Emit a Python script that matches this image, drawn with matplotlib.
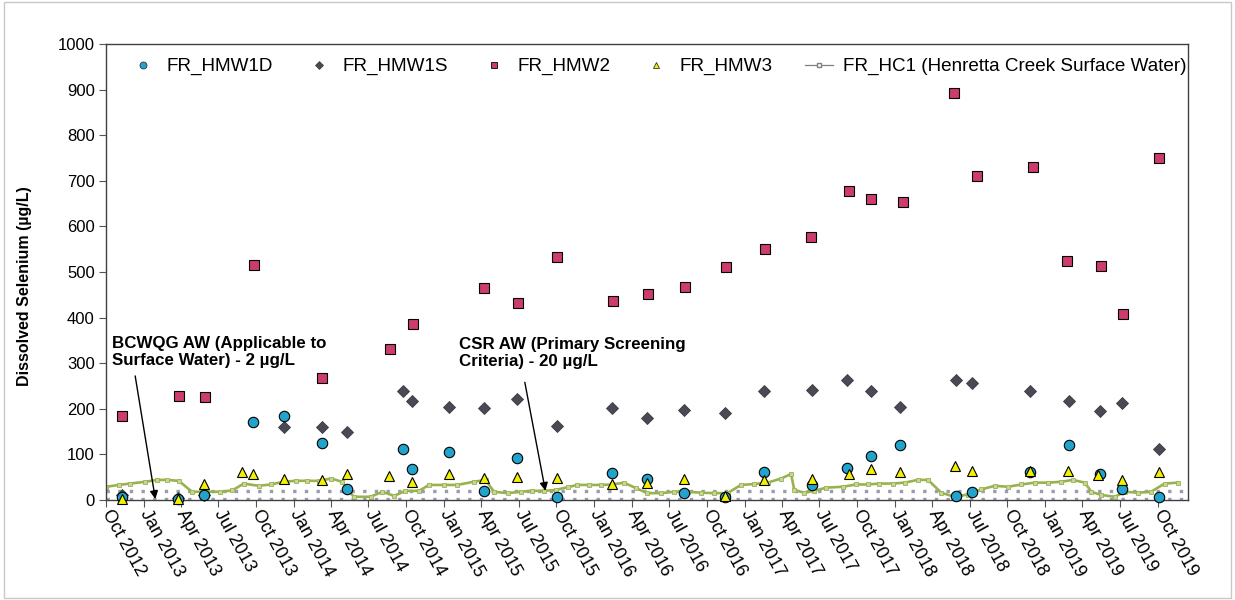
"""Dissolved selenium in Henretta monitoring wells vs creek surface water."""

import numpy as np
import pandas as pd
import matplotlib
matplotlib.use("Agg")
import matplotlib.pyplot as plt
from matplotlib.lines import Line2D
from matplotlib.patches import Rectangle

plt.rcParams["font.family"] = ["Liberation Sans", "DejaVu Sans"]

# --- data (µg/L) ---
hmw1d_dates = ["2012-11-09", "2013-03-26", "2013-05-28", "2013-09-23", "2013-12-07",
               "2014-03-10", "2014-05-10", "2014-09-24", "2014-10-16", "2015-01-13",
               "2015-04-09", "2015-06-28", "2015-10-02", "2016-02-13", "2016-05-09",
               "2016-08-07", "2016-11-13", "2017-02-17", "2017-06-13", "2017-09-06",
               "2017-11-03", "2018-01-13", "2018-05-28", "2018-07-06", "2018-11-26",
               "2019-02-28", "2019-05-14", "2019-07-07", "2019-10-05"]
hmw1d_vals = [7, 2, 10, 170, 185, 126, 23, 111, 68, 105, 20, 93, 6, 59, 47,
              15, 7, 62, 33, 71, 96, 120, 9, 17, 62, 120, 56, 23, 6]

hmw1s_dates = ["2012-11-09", "2013-03-26", "2013-05-28", "2013-12-07", "2014-03-10",
               "2014-05-10", "2014-09-24", "2014-10-16", "2015-01-13", "2015-04-09",
               "2015-06-28", "2015-10-02", "2016-02-13", "2016-05-09", "2016-08-07",
               "2016-11-14", "2017-02-17", "2017-06-13", "2017-09-06", "2017-11-03",
               "2018-01-13", "2018-05-28", "2018-07-06", "2018-11-26", "2019-02-28",
               "2019-05-14", "2019-07-07", "2019-10-05"]
hmw1s_vals = [10, 4, 10, 160, 160, 148, 238, 217, 204, 201, 222, 163, 201, 179,
              197, 191, 238, 241, 263, 238, 204, 263, 256, 238, 217, 195, 212, 111]

hmw2_dates = ["2012-11-10", "2013-03-27", "2013-05-29", "2013-09-26", "2014-03-10",
              "2014-08-23", "2014-10-18", "2015-04-09", "2015-06-29", "2015-10-02",
              "2016-02-16", "2016-05-10", "2016-08-09", "2016-11-16", "2017-02-18",
              "2017-06-10", "2017-09-11", "2017-11-04", "2018-01-19", "2018-05-25",
              "2018-07-20", "2018-12-03", "2019-02-23", "2019-05-16", "2019-07-08",
              "2019-10-05"]
hmw2_vals = [185, 227, 225, 516, 268, 331, 386, 464, 432, 533, 437, 452, 467,
             511, 551, 577, 678, 660, 654, 893, 710, 730, 523, 514, 407, 749]

hmw3_dates = ["2012-11-09", "2013-03-26", "2013-05-28", "2013-08-27", "2013-09-23",
              "2013-12-07", "2014-03-10", "2014-05-10", "2014-08-21", "2014-10-16",
              "2015-01-13", "2015-04-09", "2015-06-28", "2015-10-02", "2016-02-13",
              "2016-05-09", "2016-08-07", "2016-11-13", "2017-02-17", "2017-06-13",
              "2017-09-10", "2017-11-03", "2018-01-13", "2018-05-27", "2018-07-06",
              "2018-11-26", "2019-02-25", "2019-05-08", "2019-07-07", "2019-10-05"]
hmw3_vals = [2, 2, 34, 61, 58, 47, 44, 58, 53, 40, 56, 48, 51, 48, 34, 37, 47,
             9, 44, 46, 57, 67, 61, 74, 63, 63, 64, 55, 43, 61]

hc1_dates = ["2012-10-02", "2012-11-01", "2012-11-29", "2013-01-05", "2013-02-02",
             "2013-02-26", "2013-03-27", "2013-04-28", "2013-06-04", "2013-07-06",
             "2013-08-04", "2013-09-01", "2013-10-07", "2013-11-05", "2013-12-07",
             "2014-01-05", "2014-02-02", "2014-03-02", "2014-04-01", "2014-04-28",
             "2014-05-26", "2014-07-06", "2014-08-04", "2014-09-01", "2014-09-29",
             "2014-11-01", "2014-11-25", "2014-12-31", "2015-02-02", "2015-03-14",
             "2015-04-12", "2015-05-02", "2015-06-04", "2015-07-06", "2015-08-03",
             "2015-09-01", "2015-09-29", "2015-10-28", "2015-11-21", "2015-12-19",
             "2016-01-17", "2016-02-14", "2016-03-13", "2016-04-11", "2016-05-09",
             "2016-06-11", "2016-07-13", "2016-08-15", "2016-09-16", "2016-10-18",
             "2016-11-20", "2016-12-22", "2017-01-24", "2017-02-25", "2017-03-30",
             "2017-04-23", "2017-05-01", "2017-05-25", "2017-06-19", "2017-07-17",
             "2017-08-27", "2017-09-28", "2017-10-27", "2017-11-24", "2017-12-26",
             "2018-01-24", "2018-02-25", "2018-03-22", "2018-04-23", "2018-05-25",
             "2018-06-27", "2018-07-29", "2018-08-31", "2018-10-02", "2018-11-04",
             "2018-12-06", "2019-01-08", "2019-02-09", "2019-03-09", "2019-04-07",
             "2019-04-23", "2019-05-17", "2019-06-19", "2019-07-13", "2019-08-14",
             "2019-09-15", "2019-10-18", "2019-11-20"]
hc1_vals = [29, 33, 36, 40, 44, 44, 42, 18, 18, 18, 21, 36, 31, 34, 40, 42, 42,
            42, 47, 40, 7, 7, 18, 9, 20, 20, 33, 33, 33, 40, 44, 18, 15, 18, 20,
            20, 22, 28, 33, 33, 33, 34, 38, 26, 15, 15, 18, 18, 16, 15, 15, 33,
            35, 38, 47, 57, 22, 16, 20, 27, 29, 34, 34, 36, 36, 38, 44, 44, 16,
            7, 12, 23, 31, 29, 34, 38, 38, 40, 44, 38, 18, 11, 7, 18, 16, 18, 36, 38]

bcwqg_aw = 2    # µg/L
csr_aw = 20     # µg/L

# quarterly ticks Oct 2012 .. Oct 2019
tick_dates = pd.date_range("2012-10-01", "2019-10-01", freq="QS-OCT")


def d(lst):
    return pd.to_datetime(lst)


fig = plt.figure(figsize=(12.35, 6.0), dpi=100)
ax = fig.add_axes([0.0858, 0.1667, 0.8762, 0.76])

# guideline levels
for lvl in (csr_aw, bcwqg_aw):
    ax.axhline(lvl, color="#9a9ab0", linestyle=(0, (1, 2.5)), lw=2.4, zorder=1)

# creek surface water
ax.plot(d(hc1_dates), hc1_vals, color="#98b34e", lw=1.9, marker="s", ms=3.4,
        mfc="#c9d49a", mec="#98b34e", mew=0.6, zorder=2)

kw = dict(linestyle="none", mec="black", mew=0.8, zorder=3, clip_on=False)
ax.plot(d(hmw2_dates), hmw2_vals, marker="s", ms=6.5, mfc="#cc3c6e", **kw)
ax.plot(d(hmw1s_dates), hmw1s_vals, marker="D", ms=6, mfc="#4a4a55", mec="#3a3a44",
        mew=0.6, linestyle="none", zorder=3, clip_on=False)
ax.plot(d(hmw1d_dates), hmw1d_vals, marker="o", ms=7.5, mfc="#22a3cc", **kw)
ax.plot(d(hmw3_dates), hmw3_vals, marker="^", ms=7.5, mfc="#f2f200", **kw)

ax.set_xlim(pd.Timestamp("2012-10-01"), pd.Timestamp("2019-12-14"))
ax.set_ylim(0, 1000)
ax.set_yticks(np.arange(0, 1001, 100))
ax.set_xticks(tick_dates)
ax.set_xticklabels([t.strftime("%b %Y") for t in tick_dates])
ax.tick_params(axis="x", labelsize=13, length=5, pad=3, color="#555555")
ax.tick_params(axis="y", labelsize=12, length=5, pad=3, color="#555555")
for lab in ax.get_xticklabels():
    lab.set_rotation(-61)
    lab.set_ha("left")
    lab.set_va("center")
    lab.set_rotation_mode("anchor")
for s in ax.spines.values():
    s.set_color("#404040")
    s.set_linewidth(1.0)

ax.set_ylabel("Dissolved Selenium (µg/L)", fontsize=11.5, fontweight="bold")
ax.yaxis.set_label_coords(-0.068, 0.47)

# guideline annotations
ax.text(pd.Timestamp("2012-10-16"), 360, "BCWQG AW (Applicable to\nSurface Water) - 2 µg/L",
        fontsize=12.2, fontweight="bold", ha="left", va="top", linespacing=1.15)
ax.annotate("", xy=(pd.Timestamp("2013-01-29"), bcwqg_aw),
            xytext=(pd.Timestamp("2012-12-11"), 272),
            arrowprops=dict(arrowstyle="-|>", color="black", lw=1.0, mutation_scale=12,
                            shrinkA=0, shrinkB=0))
ax.text(pd.Timestamp("2015-02-07"), 358, "CSR AW (Primary Screening\nCriteria) - 20 µg/L",
        fontsize=12.2, fontweight="bold", ha="left", va="top", linespacing=1.15)
ax.annotate("", xy=(pd.Timestamp("2015-09-04"), csr_aw),
            xytext=(pd.Timestamp("2015-07-16"), 258),
            arrowprops=dict(arrowstyle="-|>", color="black", lw=1.0, mutation_scale=12,
                            shrinkA=0, shrinkB=0))

handles = [
    Line2D([], [], linestyle="none", marker="o", ms=5, mfc="#22a3cc", mec="#333333", mew=0.6),
    Line2D([], [], linestyle="none", marker="D", ms=4.5, mfc="#4a4a55", mec="#3a3a44", mew=0.5),
    Line2D([], [], linestyle="none", marker="s", ms=5, mfc="#cc3c6e", mec="black", mew=0.6),
    Line2D([], [], linestyle="none", marker="^", ms=5, mfc="#f2f200", mec="#333333", mew=0.6),
    Line2D([], [], color="#808080", lw=0.9, marker="s", ms=3, mfc="white", mec="#808080"),
]
labels = ["FR_HMW1D", "FR_HMW1S", "FR_HMW2", "FR_HMW3",
          "FR_HC1 (Henretta Creek Surface Water)"]
ax.legend(handles, labels, loc="center left", bbox_to_anchor=(0.021, 0.95), ncol=5,
          frameon=False, fontsize=13.6, handlelength=1.5, handletextpad=0.5,
          columnspacing=1.68, borderpad=0, borderaxespad=0)

# outer chart border
fig.patches.append(Rectangle((0.003, 0.004), 0.994, 0.992, transform=fig.transFigure,
                             fill=False, edgecolor="#c8c8c8", lw=1.0))

fig.savefig("out.png", dpi=100)
plt.close(fig)
